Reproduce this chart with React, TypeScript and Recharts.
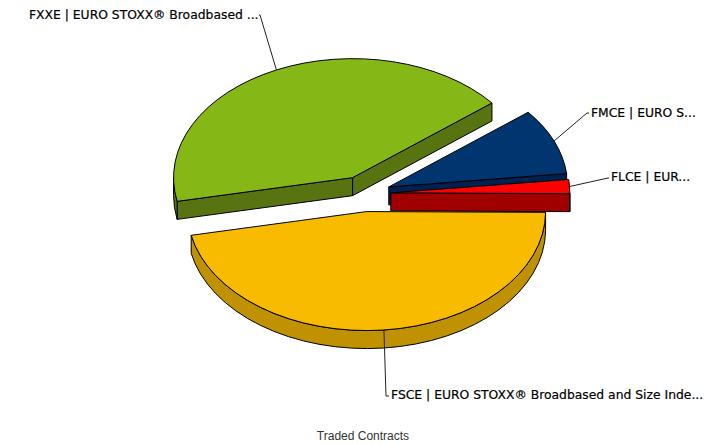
import { PieChart, Pie } from "recharts";

// Products and their share of traded contracts (%)
const products = ["FXXE", "FMCE", "FLCE", "FSCE"];
const shares = [42.4, 9.0, 1.9, 46.7];
const labels = [
  "FXXE | EURO STOXX® Broadbased ...",
  "FMCE | EURO S...",
  "FLCE | EUR...",
  "FSCE | EURO STOXX® Broadbased and Size Inde...",
];

const topColors = ["#85b716", "#003570", "#ff0000", "#f8bb00"];
const sideColors = ["#587410", "#002050", "#a00000", "#c09100"];

// Where each callout ends: elbow point, then text start
const callouts = [
  { elbow: [260, 15], hook: [259, 15], textX: 29, textY: 19 },
  { elbow: [587, 113], hook: [589, 113], textX: 591, textY: 117 },
  { elbow: [608, 178], hook: [609, 178], textX: 611, textY: 181 },
  { elbow: [386, 396], hook: [389, 396], textX: 391, textY: 399 },
];

const chartData = products.map((name, i) => ({
  name,
  value: shares[i],
  fill: topColors[i],
  side: sideColors[i],
  text: labels[i],
  callout: callouts[i],
}));

const SQUASH = 119 / 179; // tilt of the pie
const DEPTH = 18;
const EXPLODE = 0.15;
const RAD = Math.PI / 180;

// Exploded centre of a slice and the ellipse point at a given angle
function geometry(cx: number, cy: number, r: number, a0: number, a1: number) {
  const mid = (a0 + a1) / 2;
  const ox = cx + EXPLODE * r * Math.cos(mid * RAD);
  const oy = cy - EXPLODE * r * SQUASH * Math.sin(mid * RAD);
  const pt = (a: number, dy = 0) => [
    ox + r * Math.cos(a * RAD),
    oy - r * SQUASH * Math.sin(a * RAD) + dy,
  ];
  return { ox, oy, mid, pt };
}

function Slice3D(props: any) {
  const { cx, cy, outerRadius: r, startAngle, endAngle, fill } = props;
  const side = props.side ?? props.payload?.side;
  const a0 = Math.min(startAngle, endAngle);
  const a1 = Math.max(startAngle, endAngle);
  const { ox, oy, pt } = geometry(cx, cy, r, a0, a1);
  const ry = r * SQUASH;

  const quad = (a: number) => {
    const p = pt(a);
    const q = pt(a, DEPTH);
    return `M${ox},${oy}L${p[0]},${p[1]}L${q[0]},${q[1]}L${ox},${oy + DEPTH}Z`;
  };

  const walls: string[] = [];
  if (Math.cos(a0 * RAD) > 0) walls.push(quad(a0));
  if (Math.cos(a1 * RAD) < 0) walls.push(quad(a1));

  // Outer rim only shows on the front half of the pie
  const from = ((a0 % 360) + 360) % 360;
  const to = from + (a1 - a0);
  const rimFrom = Math.max(from, 180);
  const rimTo = Math.min(to, 360);
  if (rimTo > rimFrom) {
    const p = pt(rimFrom);
    const q = pt(rimTo);
    const big = rimTo - rimFrom > 180 ? 1 : 0;
    walls.push(
      `M${p[0]},${p[1]}A${r},${ry} 0 ${big} 0 ${q[0]},${q[1]}L${q[0]},${q[1] + DEPTH}A${r},${ry} 0 ${big} 1 ${p[0]},${p[1] + DEPTH}Z`
    );
  }

  const s = pt(a0);
  const e = pt(a1);
  const top = `M${ox},${oy}L${s[0]},${s[1]}A${r},${ry} 0 ${a1 - a0 > 180 ? 1 : 0} 0 ${e[0]},${e[1]}Z`;

  return (
    <g>
      {walls.map((d, i) => (
        <path key={i} d={d} fill={side} stroke="#000" strokeWidth={1} strokeLinejoin="round" />
      ))}
      <path d={top} fill={fill} stroke="#000" strokeWidth={1} strokeLinejoin="round" />
    </g>
  );
}

function Callout(props: any) {
  const { cx, cy, outerRadius: r, startAngle, endAngle } = props;
  const item = props.payload ?? props;
  const c = item.callout ?? props.callout;
  const a0 = Math.min(startAngle, endAngle);
  const a1 = Math.max(startAngle, endAngle);
  const { mid, pt } = geometry(cx, cy, r, a0, a1);
  const p = pt(mid);
  return (
    <g>
      <polyline
        points={`${p[0]},${p[1]} ${c.elbow[0]},${c.elbow[1]} ${c.hook[0]},${c.hook[1]}`}
        fill="none"
        stroke="#222"
        strokeWidth={1}
      />
      <text
        x={c.textX}
        y={c.textY}
        textAnchor="start"
        fontFamily="DejaVu Sans, Verdana, sans-serif"
        fontSize={12.35}
        fill="#000"
        stroke="#000"
        strokeWidth={0.2}
      >
        {item.text ?? props.text}
      </text>
    </g>
  );
}

export default function App() {
  return (
    <div style={{ position: "absolute", left: 0, top: 0, width: 723, height: 444, background: "#fff" }}>
      <PieChart width={723} height={444} margin={{ top: 0, right: 0, bottom: 0, left: 0 }}>
        <Pie
          data={chartData}
          dataKey="value"
          nameKey="name"
          cx={364}
          cy={193.8}
          innerRadius={0}
          outerRadius={179}
          startAngle={191.5}
          endAngle={-168.5}
          stroke="#000"
          shape={Slice3D}
          label={Callout}
          labelLine={false}
          isAnimationActive={false}
        />
        <text x={363} y={440} textAnchor="middle" fontFamily="Liberation Sans, Arial, sans-serif" fontSize={12} fill="#333">
          Traded Contracts
        </text>
      </PieChart>
    </div>
  );
}
